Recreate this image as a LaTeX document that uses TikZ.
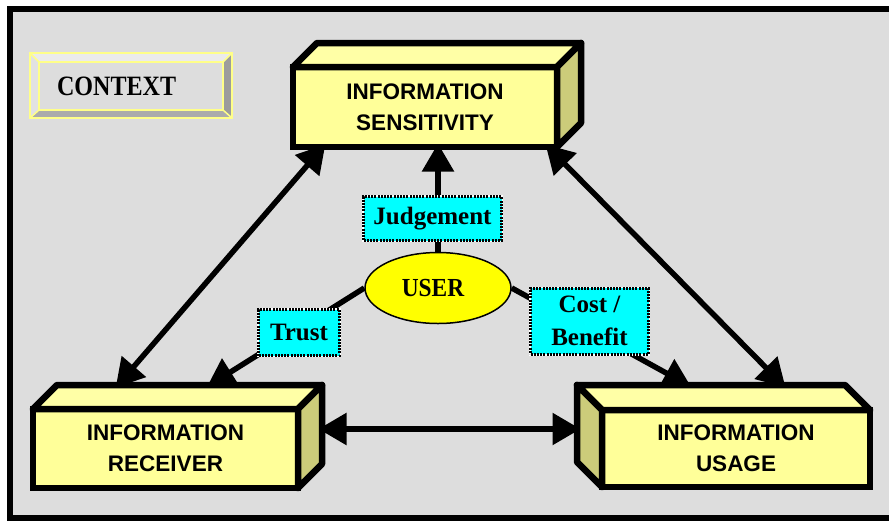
\documentclass[tikz,border=0pt]{standalone}
\usepackage{fontspec}
\setmainfont{Liberation Serif}
\newfontfamily\boxfont{Liberation Sans}
\usetikzlibrary{arrows.meta,calc,shapes.geometric}
\definecolor{bggray}{HTML}{DDDDDD}
\definecolor{frontY}{HTML}{FFFF99}
\definecolor{topY}{HTML}{FFFFA6}
\definecolor{sideY}{HTML}{CCCC7A}
\definecolor{lblcyan}{HTML}{00FFFF}
\definecolor{ctxline}{HTML}{FFFF88}
\definecolor{userY}{HTML}{FFFF00}
\definecolor{bevTop}{HTML}{EBEBEB}
\definecolor{bevLeft}{HTML}{E2E2E2}
\definecolor{bevRight}{HTML}{9C9C9C}
\definecolor{bevBot}{HTML}{ABABAB}
\pgfdeclarelayer{bg}
\pgfdeclarelayer{lines}
\pgfsetlayers{bg,lines,main}
\begin{document}
\begin{tikzpicture}[x=1pt,y=-1pt,
  front/.style={draw=black, fill=frontY, line width=6.5pt, inner sep=0pt, outer sep=0pt,
    minimum width=265pt, minimum height=79pt, align=center,
    font=\boxfont\bfseries\fontsize{22.5}{31}\selectfont},
  topface/.style={draw=black, fill=topY, line width=6.5pt, line join=round},
  sideface/.style={draw=black, fill=sideY, line width=6.5pt, line join=round},
  tipA/.tip={Triangle[length=28pt,width=31pt]},
  conn/.style={line width=5.5pt, -tipA, shorten >=-3.5pt},
  biconn/.style={line width=5.5pt, tipA-tipA, shorten >=-3.5pt, shorten <=-3.5pt},
  lbl/.style={rectangle, fill=lblcyan, draw=black, line width=3pt,
    dash pattern=on 2pt off 1.2pt,
    preaction={draw=white, solid, line width=3pt},
    inner sep=0pt, align=center, font=\bfseries\fontsize{25}{33}\selectfont},
  ctxedge/.style={draw=ctxline, line width=1.5pt},
]
\clip (0,0) rectangle (889,520);
\useasboundingbox (0,0) rectangle (889,520);

\begin{pgfonlayer}{bg}
  \fill[white] (0,0) rectangle (889,520);
  \draw[line width=6pt, fill=bggray] (9.5,8.5) rectangle (910,517.5);
\end{pgfonlayer}

% CONTEXT bevelled button
\node[inner sep=0pt, outer sep=0pt, minimum width=184pt, minimum height=48pt,
  font=\bfseries\fontsize{28}{30}\selectfont] (ctx) at (131,86)
  {\makebox[184pt][l]{\hspace{18pt}\scalebox{0.86}[1]{CONTEXT}}};
\coordinate (cNW) at ([shift={(-9,-9)}]ctx.north west);
\coordinate (cNE) at ([shift={(9,-9)}]ctx.north east);
\coordinate (cSE) at ([shift={(9,8)}]ctx.south east);
\coordinate (cSW) at ([shift={(-9,8)}]ctx.south west);
\fill[bevTop] (cNW) -- (cNE) -- (ctx.north east) -- (ctx.north west) -- cycle;
\fill[bevRight] (cNE) -- (cSE) -- (ctx.south east) -- (ctx.north east) -- cycle;
\fill[bevBot] (cSE) -- (cSW) -- (ctx.south west) -- (ctx.south east) -- cycle;
\fill[bevLeft] (cSW) -- (cNW) -- (ctx.north west) -- (ctx.south west) -- cycle;
\draw[ctxedge] (cNW) rectangle (cSE);
\draw[ctxedge] (ctx.north west) rectangle (ctx.south east);
\draw[ctxedge] (cNW) -- (ctx.north west) (cNE) -- (ctx.north east)
  (cSE) -- (ctx.south east) (cSW) -- (ctx.south west);

% INFORMATION SENSITIVITY
\node[front, minimum width=264pt, minimum height=80pt] (sens) at (425,107) {INFORMATION\\SENSITIVITY};
\filldraw[topface] (sens.north west) -- ++(24,-24) -- ([shift={(24,-24)}]sens.north east) -- (sens.north east) -- cycle;
\filldraw[sideface] (sens.north east) -- ++(24,-24) -- ([shift={(24,-24)}]sens.south east) -- (sens.south east) -- cycle;

% INFORMATION RECEIVER
\node[front] (rcv) at (165.5,448.5) {INFORMATION\\RECEIVER};
\filldraw[topface] (rcv.north west) -- ++(24,-24) -- ([shift={(24,-24)}]rcv.north east) -- (rcv.north east) -- cycle;
\filldraw[sideface] (rcv.north east) -- ++(24,-24) -- ([shift={(24,-24)}]rcv.south east) -- (rcv.south east) -- cycle;
\coordinate (rcvBL) at ([shift={(24,-24)}]rcv.north west);
\coordinate (rcvBR) at ([shift={(24,-24)}]rcv.north east);

% INFORMATION USAGE
\node[front, minimum width=268pt, minimum height=77pt] (use) at (736,448.5) {INFORMATION\\USAGE};
\filldraw[topface] (use.north east) -- ++(-25,-25) -- ([shift={(-25,-25)}]use.north west) -- (use.north west) -- cycle;
\filldraw[sideface] (use.north west) -- ++(-25,-25) -- ([shift={(-25,-25)}]use.south west) -- (use.south west) -- cycle;
\coordinate (useBL) at ([shift={(-25,-25)}]use.north west);
\coordinate (useBR) at ([shift={(-25,-25)}]use.north east);

% USER
\node[ellipse, draw=black, line width=1.5pt, fill=userY, minimum width=146pt, minimum height=71pt,
  inner sep=0pt, font=\bfseries\fontsize{26}{30}\selectfont] (user) at (438,288)
  {\scalebox{0.9}[1]{USER}\hspace*{10pt}};

% connectors
\begin{pgfonlayer}{lines}
  \draw[biconn] ($(sens.south west)!0.114!(sens.south east)$) -- ($(rcvBL)!0.23!(rcvBR)$);
  \draw[biconn] ($(sens.south west)!0.966!(sens.south east)$) -- ($(useBL)!0.769!(useBR)$);
  \draw[biconn] ($(rcv.east)+(24,-19.5)$) -- ($(use.west)+(-25,-19.5)$);
  \draw[conn] (user.north) -- (user.north |- sens.south);
  \draw[conn] (user.west) -- ($(rcvBL)!0.577!(rcvBR)$);
  \draw[conn] (user.east) -- ($(useBL)!0.414!(useBR)$);
\end{pgfonlayer}

% labels
\node[lbl, minimum width=138pt, minimum height=44pt] (judg) at (432.5,218.5) {Judgement};
\node[lbl, minimum width=81pt, minimum height=46pt] (trust) at (299,332.5) {Trust};
\node[lbl, minimum width=118pt, minimum height=66pt] (cost) at (589.5,321) {Cost /\\Benefit};
\end{tikzpicture}
\end{document}
